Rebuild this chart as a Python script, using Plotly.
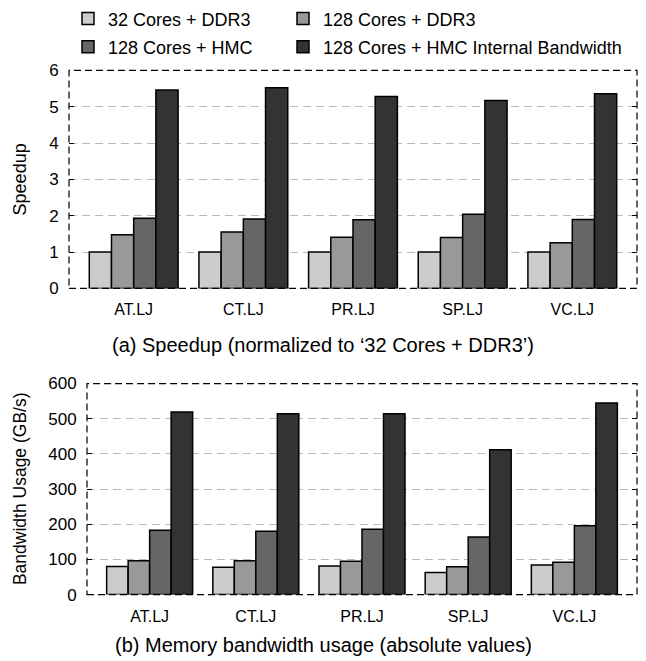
import plotly.graph_objects as go

categories = ["AT.LJ", "CT.LJ", "PR.LJ", "SP.LJ", "VC.LJ"]
series_names = ["32 Cores + DDR3", "128 Cores + DDR3", "128 Cores + HMC",
                "128 Cores + HMC Internal Bandwidth"]

speedup_32_ddr3 = [1.00, 1.00, 1.00, 1.00, 1.00]
speedup_128_ddr3 = [1.48, 1.55, 1.41, 1.40, 1.26]
speedup_128_hmc = [1.93, 1.91, 1.89, 2.04, 1.90]
speedup_128_hmc_int = [5.46, 5.52, 5.28, 5.17, 5.36]

bw_32_ddr3 = [80, 78, 81, 63, 84]
bw_128_ddr3 = [96, 96, 95, 79, 92]
bw_128_hmc = [183, 180, 186, 164, 196]
bw_128_hmc_int = [519, 514, 514, 412, 545]

colors = ["#cccccc", "#999999", "#666666", "#333333"]
FONT = "Liberation Sans, Arial, Helvetica, sans-serif"
W, H = 646, 661

fig = go.Figure()
top = [speedup_32_ddr3, speedup_128_ddr3, speedup_128_hmc, speedup_128_hmc_int]
bot = [bw_32_ddr3, bw_128_ddr3, bw_128_hmc, bw_128_hmc_int]
for i, (name, vals) in enumerate(zip(series_names, top)):
    extra = dict(legendwidth=170) if i in (0, 2) else {}
    fig.add_trace(go.Bar(x=categories, y=vals, name=name,
                         marker=dict(color=colors[i], line=dict(color="black", width=1.5)),
                         legend="legend" if i < 2 else "legend2",
                         xaxis="x", yaxis="y", **extra))
for i, (name, vals) in enumerate(zip(series_names, bot)):
    fig.add_trace(go.Bar(x=categories, y=vals, name=name, showlegend=False,
                         marker=dict(color=colors[i], line=dict(color="black", width=1.5)),
                         xaxis="x2", yaxis="y2"))

def px_x(v):
    return v / W

def px_y(v):
    return 1 - v / H

top_dom_y = [px_y(285), px_y(65)]
bot_dom_y = [px_y(594), px_y(381)]

xcommon = dict(type="category", range=[-0.59, 4.59], showgrid=False, ticks="",
               showline=False, zeroline=False, automargin=False,
               tickfont=dict(family=FONT, size=16, color="black"),
               ticklabelstandoff=10)
ycommon = dict(showgrid=True, gridcolor="#bbbbbb", griddash="8px,5px", gridwidth=1.2,
               ticks="inside", ticklen=5, tickcolor="black", tickwidth=1,
               showline=True, linecolor="rgba(0,0,0,0)", mirror="ticks",
               zeroline=False, automargin=False,
               tickfont=dict(family=FONT, size=17, color="black"),
               ticklabelstandoff=6)

legend_common = dict(orientation="h", x=px_x(68), xanchor="left", yanchor="middle",
                     bgcolor="rgba(0,0,0,0)",
                     font=dict(family=FONT, size=18, color="black"), traceorder="normal")

fig.update_layout(
    width=W, height=H,
    margin=dict(l=0, r=0, t=0, b=0),
    paper_bgcolor="white", plot_bgcolor="white",
    barmode="group", bargap=0.19, bargroupgap=0,
    font=dict(family=FONT, color="black"),
    xaxis=dict(domain=[px_x(69), px_x(637)], anchor="y", **xcommon),
    yaxis=dict(domain=top_dom_y, anchor="x", range=[0, 6], dtick=1, **ycommon),
    xaxis2=dict(domain=[px_x(87), px_x(637)], anchor="y2", **xcommon),
    yaxis2=dict(domain=bot_dom_y, anchor="x2", range=[0, 600], dtick=100, **ycommon),
    legend=dict(y=px_y(13), **legend_common),
    legend2=dict(y=px_y(41.5), **legend_common),
)

# dashed plot borders
for xr, yr in [("x", "y"), ("x2", "y2")]:
    fig.add_shape(type="rect", xref=f"{xr} domain", yref=f"{yr} domain",
                  x0=0, x1=1, y0=0, y1=1, layer="above",
                  line=dict(color="black", width=1.2, dash="7px,4px"))

annotations = [
    dict(text="Speedup", x=px_x(20), y=(top_dom_y[0] + top_dom_y[1]) / 2, textangle=-90,
         font=dict(size=18)),
    dict(text="Bandwidth Usage (GB/s)", x=px_x(20), y=(bot_dom_y[0] + bot_dom_y[1]) / 2,
         textangle=-90, font=dict(size=17.5)),
    dict(text="(a) Speedup (normalized to \u201832 Cores + DDR3\u2019)", x=0.5, y=px_y(342),
         font=dict(size=20)),
    dict(text="(b) Memory bandwidth usage (absolute values)", x=0.5, y=px_y(645),
         font=dict(size=20)),
]
for a in annotations:
    fig.add_annotation(xref="paper", yref="paper", showarrow=False,
                       xanchor="center", yanchor="middle", **a)

fig.write_html("out.html", config={"displayModeBar": False},
               post_script="document.body.style.margin='0px';")
